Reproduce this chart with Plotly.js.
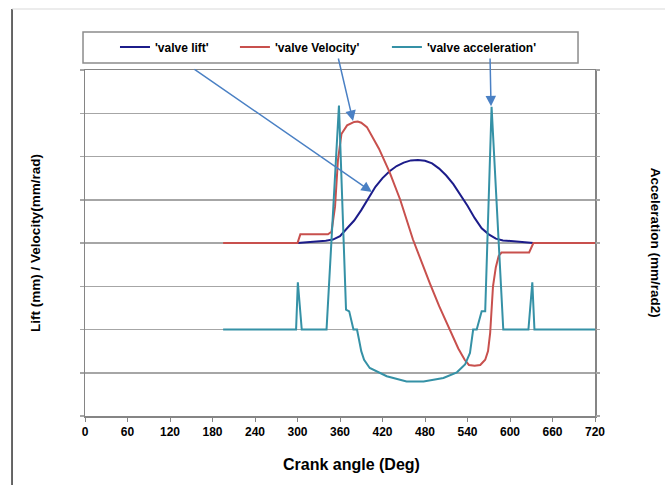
<!DOCTYPE html>
<html>
<head>
<meta charset="utf-8">
<script src="https://cdn.plot.ly/plotly-3.0.1.min.js"></script>
<style>html,body{margin:0;padding:0;background:#fff;}#chart{width:665px;height:485px;}</style>
</head>
<body>
<div id="chart"></div>
<script>
// Crank angle ticks
const xTicks = [0, 60, 120, 180, 240, 300, 360, 420, 480, 540, 600, 660, 720];

// valve lift (mm), left axis
const liftAngle = [300, 320, 340, 350, 360, 370, 380, 390, 400, 410, 420, 430, 440, 450, 460, 470, 480, 490, 500, 510, 520, 530, 540, 550, 560, 570, 580, 590, 600, 620, 633];
const liftValue = [0, 0.1, 0.25, 0.4, 0.8, 1.7, 2.6, 3.8, 5.2, 6.5, 7.5, 8.3, 8.9, 9.3, 9.55, 9.6, 9.5, 9.2, 8.6, 7.8, 6.8, 5.6, 4.3, 2.9, 1.7, 1.0, 0.5, 0.3, 0.25, 0.1, 0];

// valve velocity (mm/rad), left axis
const velAngle = [195, 300, 304, 343, 348, 353, 357, 362, 370, 380, 385, 390, 398, 405, 415, 430, 445, 463, 475, 487, 500, 515, 527, 536, 542, 550, 558, 565, 569, 572, 576, 580, 584, 588, 627, 633, 720];
const velValue = [0, 0, 1.0, 1.0, 1.3, 4.2, 9.5, 12.6, 13.6, 14.0, 14.05, 13.9, 13.4, 12.4, 10.9, 8.2, 5.0, 0.4, -2.2, -4.7, -7.3, -10.1, -12.2, -13.5, -14.1, -14.2, -14.1, -13.5, -12.5, -10.4, -5.0, -2.8, -1.5, -1.1, -1.1, 0, 0];

// valve acceleration (mm/rad2), right axis
const accAngle = [195, 298, 300.5, 306, 341, 358.5, 368.5, 373, 379, 384, 387, 390, 394, 402, 426, 454, 478, 506, 525, 536.5, 543.5, 548, 553, 560, 565, 574, 590.5, 626, 631.5, 634.5, 720];
const accValue = [0, 0, 10.9, 0, 0, 51.8, 4.6, 4.2, 0, 0, -2.5, -5.0, -7.0, -8.9, -10.8, -12.0, -12.0, -11.2, -9.9, -8.1, -5.4, 0, 0, 4.2, 4.2, 51.5, 0, 0, 10.9, 0, 0];

// arrow callouts: [tipAngle, tipLeftValue, tailAngle, tailLeftValue]
const arrowLift = [405, 5.9, 152.5, 20.2];
const arrowVel = [378.4, 14.1, 357.2, 21.5];
const arrowAcc = [573.2, 15.8, 571.8, 21.5];

const FONT = 'Liberation Sans, Arial, sans-serif';

const traces = [
  {x: liftAngle, y: liftValue, name: "'valve lift'", type: 'scatter', mode: 'lines',
   line: {color: '#1c1c8a', width: 2}, yaxis: 'y', legend: 'legend'},
  {x: velAngle, y: velValue, name: "'valve Velocity'", type: 'scatter', mode: 'lines',
   line: {color: '#c8504d', width: 2}, yaxis: 'y', legend: 'legend2'},
  {x: accAngle, y: accValue, name: "'valve acceleration'", type: 'scatter', mode: 'lines',
   line: {color: '#3591a6', width: 2}, yaxis: 'y2', legend: 'legend3'}
];

function arrow(a) {
  return {x: a[0], y: a[1], ax: a[2], ay: a[3], xref: 'x', yref: 'y', axref: 'x', ayref: 'y',
          text: '', showarrow: true, arrowhead: 2, arrowsize: 1.4, arrowwidth: 1.5,
          arrowcolor: '#4a80c4', standoff: 0, startstandoff: 0};
}

const legendBase = {orientation: 'h', xanchor: 'left', yanchor: 'middle', y: 1.0665,
  bgcolor: 'rgba(0,0,0,0)', borderwidth: 0, font: {family: FONT, size: 12, color: '#000', weight: 'bold'}};

const layout = {
  width: 665, height: 485,
  margin: {l: 85, r: 70, t: 70, b: 69},
  paper_bgcolor: '#fff', plot_bgcolor: '#fff',
  showlegend: true,
  legend: Object.assign({}, legendBase, {x: 0.0588}),
  legend2: Object.assign({}, legendBase, {x: 0.294}),
  legend3: Object.assign({}, legendBase, {x: 0.592}),
  xaxis: {range: [0, 720], tickvals: xTicks, ticktext: xTicks.map(String), showgrid: false, zeroline: false,
    showline: true, mirror: true, linecolor: '#858585', linewidth: 1.5,
    ticks: 'outside', ticklen: 4, tickcolor: '#858585', tickwidth: 1,
    tickfont: {family: FONT, size: 12, color: '#000', weight: 'bold'}},
  yaxis: {range: [-20, 20], dtick: 5, showticklabels: false, showgrid: true, gridcolor: '#a6a6a6', gridwidth: 1.5,
    zeroline: false, showline: true, mirror: true, linecolor: '#858585', linewidth: 1.5,
    ticks: 'outside', ticklen: 4, tickcolor: '#a6a6a6', tickwidth: 1.5,
    title: {text: 'Lift (mm) / Velocity(mm/rad)', font: {family: FONT, size: 13.5, color: '#000', weight: 'bold'}, standoff: 36}},
  yaxis2: {range: [-20, 60], dtick: 10, overlaying: 'y', side: 'right', showticklabels: false, showgrid: false,
    zeroline: false, showline: false, ticks: 'outside', ticklen: 4, tickcolor: '#a6a6a6', tickwidth: 1.5},
  annotations: [
    arrow(arrowLift), arrow(arrowVel), arrow(arrowAcc),
    {text: 'Crank angle (Deg)', xref: 'paper', yref: 'paper', x: 0.522, y: -0.141, showarrow: false,
     xanchor: 'center', yanchor: 'middle', font: {family: FONT, size: 16, color: '#000', weight: 'bold'}},
    {text: 'Acceleration (mm/rad2)', xref: 'paper', yref: 'paper', x: 1.12, y: 0.5, showarrow: false,
     xanchor: 'center', yanchor: 'middle', textangle: 90, font: {family: FONT, size: 13.5, color: '#000', weight: 'bold'}}
  ],
  shapes: [
    {type: 'rect', xref: 'paper', yref: 'paper', x0: -0.0039, x1: 0.9667, y0: 1.0202, y1: 1.1098,
     line: {color: '#8c8c8c', width: 1.5}, fillcolor: 'rgba(0,0,0,0)', layer: 'below'},
    {type: 'line', xref: 'paper', yref: 'paper', x0: -0.1431, x1: -0.1431, y0: 1.1763, y1: -0.21,
     line: {color: '#000', width: 1.2}},
    {type: 'line', xref: 'paper', yref: 'paper', x0: -0.1431, x1: 1.15, y0: 1.1763, y1: 1.1763,
     line: {color: '#d9d9d9', width: 1}}
  ]
};

Plotly.newPlot('chart', traces, layout, {staticPlot: true, displayModeBar: false});
</script>
</body>
</html>
